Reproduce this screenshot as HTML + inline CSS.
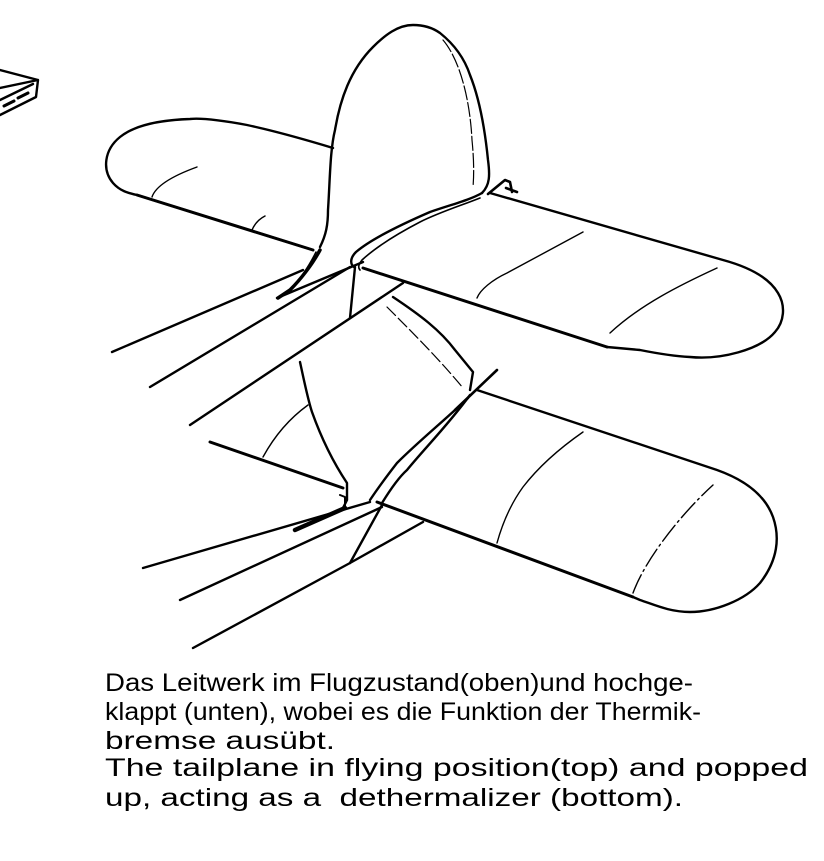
<!DOCTYPE html>
<html><head><meta charset="utf-8"><style>
html,body{margin:0;padding:0;background:#fff;}
svg{display:block;}
.t{position:absolute;left:105px;font-family:'Liberation Sans',sans-serif;font-size:25px;line-height:25px;white-space:pre;transform-origin:0 0;color:#000;}
</style></head><body>
<div style="position:relative;width:824px;height:861px;overflow:hidden;">
<svg width="824" height="861" viewBox="0 0 824 861" xmlns="http://www.w3.org/2000/svg">
<g fill="none" stroke="#000" stroke-width="2.4" stroke-linecap="round" stroke-linejoin="round">
<path d="M0 70 L38 80 L36 97 L0 115 M0 100 L33 84 M38 80 L0 88" />
<path d="M4 106 L14 101 M18 98 L28 93" stroke-width="3"/>
<path d="M333 148 C300 138 270 130 247 125 C220 120 200 118 190 119 C160 120 135 125 120 137 C104 150 102 170 113 183 C120 191 128 193 137 195 L313 250" />
<path d="M137 195 L313 250" stroke-width="3"/>
<path d="M152 197 C156 185 175 175 197 167" stroke-width="1.4"/>
<path d="M252 230 C255 223 259 219 265 216" stroke-width="1.4"/>
<path d="M320 247 C326 235 328 225 328 210 C330 180 330 150 335 130 C340 100 350 70 373 47 C385 35 398 25 413 25 C425 25 433 28 440 33 C455 45 465 60 470 75 C480 100 485 130 488 160 C490 175 490 185 482 193" />
<path d="M443 40 C460 60 470 100 472 140 C474 160 474 175 473 187" stroke-width="1.2" stroke-dasharray="14 3"/>
<path d="M482 193 C470 200 450 205 430 212 C400 225 370 240 356 252 C350 258 350 264 354 267" />
<path d="M480 198 C460 206 440 212 420 222 C395 235 375 248 362 260 C358 265 358 268 360 270" stroke-width="1.6"/>
<path d="M488 194 L505 180 L510 182 L512 192 M506 188 L517 192" stroke-width="2.6"/>
<path d="M320 250 C312 265 300 280 290 290 L278 298" stroke-width="3.5"/>
<path d="M316 252 C308 268 298 282 288 292" stroke-width="1.5"/>
<path d="M490 193 L723 260 C745 266 768 276 778 293 C786 306 784 322 775 332 C760 350 720 360 690 357 C670 356 650 352 640 350 L607 347" />
<path d="M363 268 L607 347" stroke-width="3"/>
<path d="M477 298 C480 290 492 280 507 273 L583 232" stroke-width="1.4"/>
<path d="M610 333 C640 305 680 285 717 268" stroke-width="1.4"/>
<path d="M112 352 L303 270" />
<path d="M150 387 L350 267" />
<path d="M277 298 L363 262" />
<path d="M190 425 L403 283" />
<path d="M355 267 L350 318" />
<path d="M393 297 C420 315 440 330 455 350 L473 372 L470 390" />
<path d="M387 307 C410 330 440 360 463 388" stroke-width="1.2" stroke-dasharray="12 4"/>
<path d="M300 362 C305 385 308 400 312 412 C322 440 335 465 347 483 L347 500 L342 510" />
<path d="M210 442 L343 488" stroke-width="3"/>
<path d="M263 457 C275 435 290 418 308 405" stroke-width="1.4"/>
<path d="M295 530 L345 508" stroke-width="4.5"/>
<path d="M337 512 L345 506 L345 497 L340 495" stroke-width="2"/>
<path d="M143 568 L370 502" />
<path d="M180 600 L382 507" />
<path d="M193 648 L350 563 L423 522" />
<path d="M382 505 L350 563" />
<path d="M370 500 C380 485 390 472 397 463 C420 440 445 420 468 398" />
<path d="M382 503 C390 490 398 478 407 470 C425 448 448 425 470 395" />
<path d="M455 410 L497 370" stroke-width="2.6"/>
<path d="M477 390 L717 470 C745 480 765 495 773 517 C780 537 778 560 760 583 C745 600 715 612 690 612 C670 612 655 605 640 600 L633 597" />
<path d="M377 502 L633 597" stroke-width="3"/>
<path d="M497 543 C502 525 510 505 523 487 C540 465 560 448 583 432" stroke-width="1.4"/>
<path d="M633 593 C645 560 680 515 713 485" stroke-width="1.4" stroke-dasharray="20 4 2 4"/>
</g>
</svg>
<div class="t" data-w="588" style="top:671px">Das Leitwerk im Flugzustand(oben)und hochge-</div>
<div class="t" data-w="596" style="top:700px">klappt (unten), wobei es die Funktion der Thermik-</div>
<div class="t" data-w="230" style="top:729px">bremse ausübt.</div>
<div class="t" data-w="703" style="top:756px">The tailplane in flying position(top) and popped</div>
<div class="t" data-w="578" style="top:786px">up, acting as a  dethermalizer (bottom).</div>
</div>
<script>
document.querySelectorAll('.t').forEach(function(e){
  var w=e.getBoundingClientRect().width;
  var tw=parseFloat(e.getAttribute('data-w'));
  if(w>0) e.style.transform='scaleX('+(tw/w)+')';
});
</script>
</body></html>
